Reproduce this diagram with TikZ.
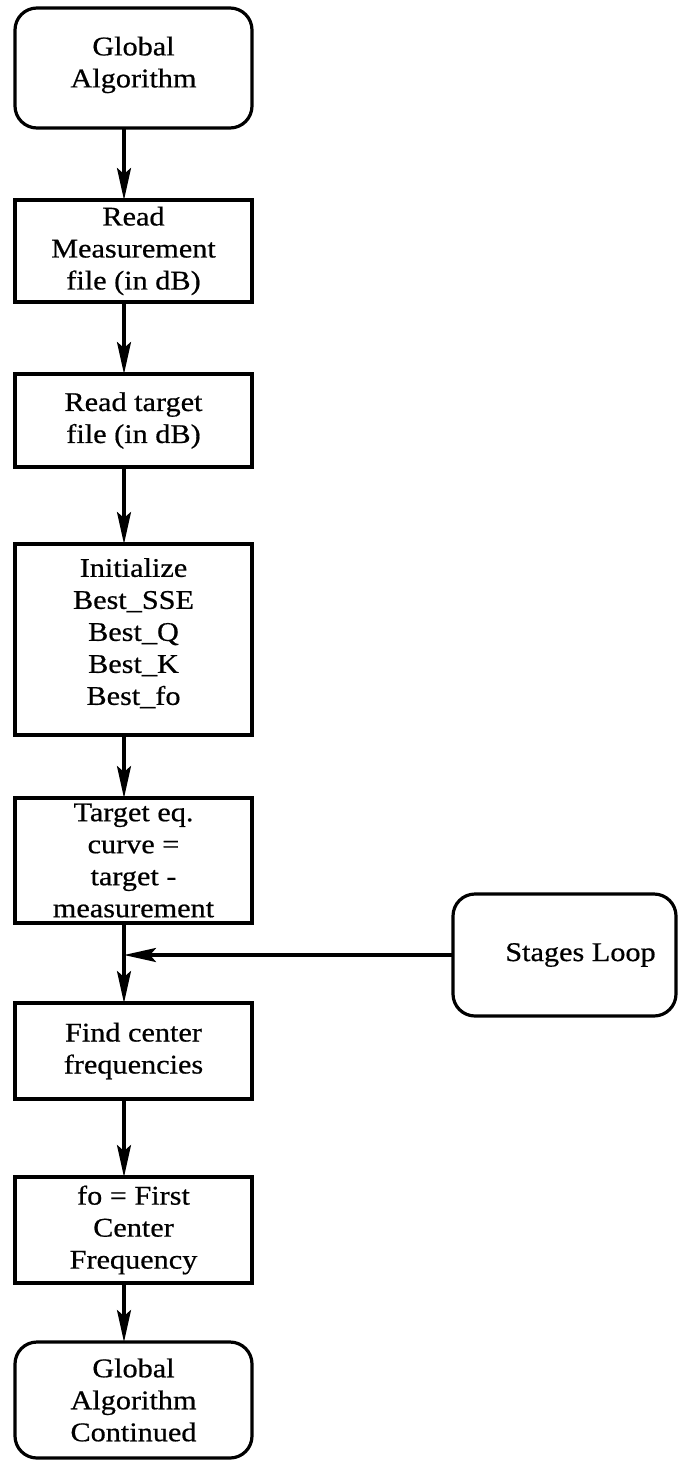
\documentclass[tikz,border=0pt]{standalone}
\usepackage{fontspec}
\setmainfont{Liberation Serif}[FakeStretch=1.12, FakeBold=0.6]
\usepackage{tikz}
\usetikzlibrary{arrows.meta}

\begin{document}
\begin{tikzpicture}[x=0.5pt, y=-0.5pt, line width=1.6pt,
	every node/.style={font=\fontsize{13.5}{16}\selectfont, align=center, inner sep=0pt, outer sep=0pt},
	box/.style={draw, rectangle, minimum width=118.5pt},
	term/.style={draw, rectangle, rounded corners=11pt, minimum width=118.5pt},
	flow/.style={-{Stealth[length=16pt, width=7pt, inset=3pt]}}]
	\useasboundingbox (0,0) rectangle (680,1460);
	\coordinate (spine) at (124,0);
	% main column
	\node[term, minimum height=60pt] (start) at (133.5,68) {Global\\Algorithm\\[-10pt]};
	\node[box, minimum height=51pt] (readmeas) at (133.5,251) {Read\\Measurement\\file (in dB)};
	\node[box, minimum height=46.5pt] (readtgt) at (133.5,420.5) {Read target\\file (in dB)};
	\node[box, minimum height=95.5pt] (init) at (133.5,639.5) {Initialize\\Best\_SSE\\Best\_Q\\Best\_K\\Best\_fo\\[-8pt]};
	\node[box, minimum height=62.5pt] (tgteq) at (133.5,860.5) {Target eq.\\curve =\\target -\\measurement};
	\node[box, minimum height=48pt] (findcf) at (133.5,1051) {Find center\\frequencies};
	\node[box, minimum height=53pt] (firstfo) at (133.5,1230) {fo = First\\Center\\Frequency};
	\node[term, minimum height=58pt] (cont) at (133.5,1400) {Global\\Algorithm\\Continued};
	% loop entry
	\node[term, minimum width=111.5pt, minimum height=61pt] (stages) at (564.5,955) {\hspace{16pt}Stages Loop};
	\draw[flow] (start.south -| spine) -- (readmeas.north -| spine);
	\draw[flow] (readmeas.south -| spine) -- (readtgt.north -| spine);
	\draw[flow] (readtgt.south -| spine) -- (init.north -| spine);
	\draw[flow] (init.south -| spine) -- (tgteq.north -| spine);
	\draw[flow] (tgteq.south -| spine) -- (findcf.north -| spine);
	\draw[flow] (findcf.south -| spine) -- (firstfo.north -| spine);
	\draw[flow] (firstfo.south -| spine) -- (cont.north -| spine);
	\draw[flow] (stages.west) -- (stages.west -| spine);
\end{tikzpicture}
\end{document}
